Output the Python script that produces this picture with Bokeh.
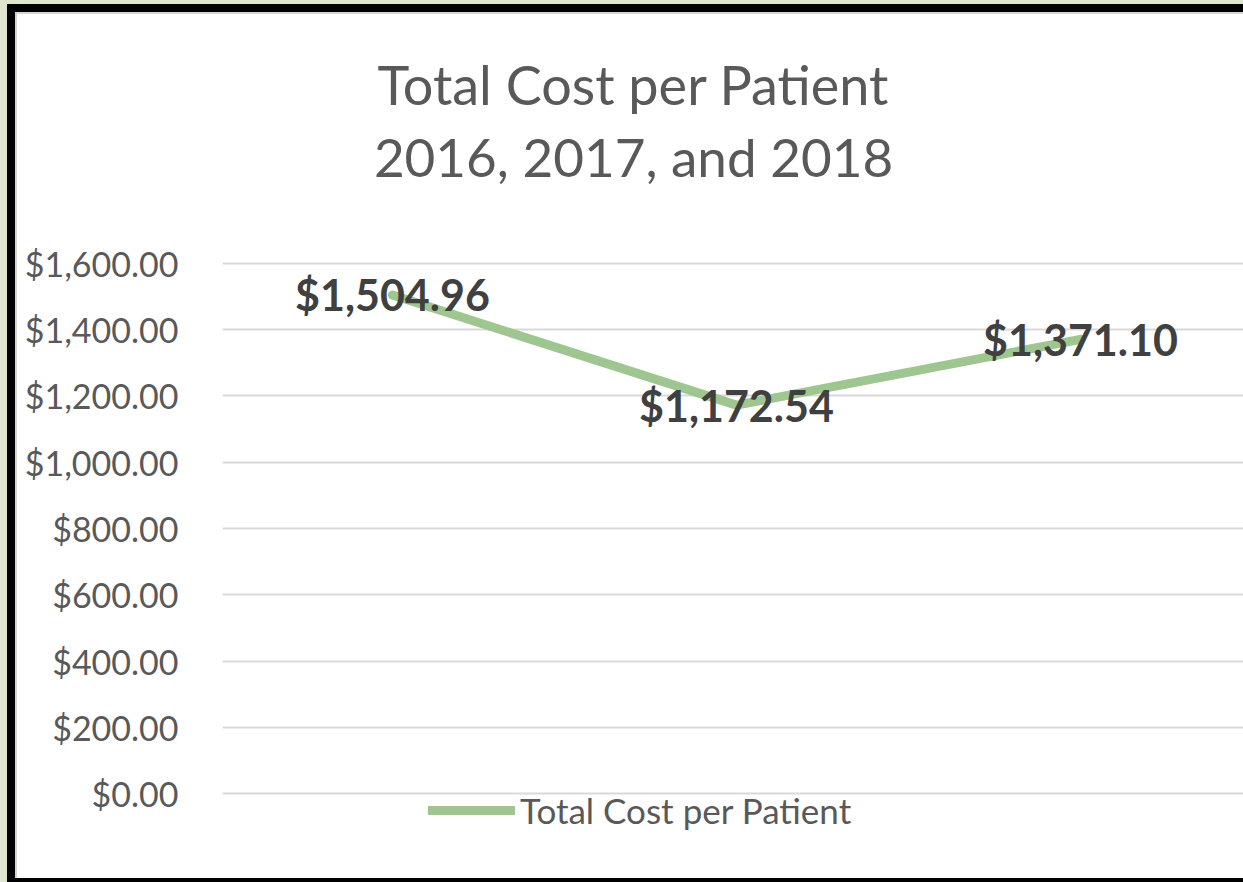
from bokeh.plotting import figure
from bokeh.models import (Range1d, FixedTicker, NumeralTickFormatter, Legend,
                          LegendItem, Label, ColumnDataSource)
from bokeh.core.properties import value
from bokeh.embed import file_html
from bokeh.resources import INLINE

# ---- data ----
years = ["2016", "2017", "2018"]
costs = [1504.96, 1172.54, 1371.10]
y_ticks = [0, 200, 400, 600, 800, 1000, 1200, 1400, 1600]
series_name = "Total Cost per Patient"
title_lines = ["Total Cost per Patient", "2016, 2017, and 2018"]

xs = list(range(len(years)))
labels = ["${:,.2f}".format(v) for v in costs]
src = ColumnDataSource(dict(x=xs, y=costs, label=labels, year=years))

FONT = "Lato"
GRAY = "#595959"

# plot frame spans the whole white chart area (right of the y-axis); the
# value axis occupies 0..1600, the space above/below holds title and legend
p = figure(width=1243, height=882, output_backend="svg", toolbar_location=None,
           tools="", x_range=Range1d(-0.494, 2.474),
           y_range=Range1d(-202.26, 2333.58), x_axis_location=None,
           min_border_left=222, min_border_right=0, min_border_top=20,
           min_border_bottom=22)
p.title.visible = False
p.border_fill_alpha = 0
p.background_fill_color = "white"
p.outline_line_color = None
p.styles = {
    "background-color": "white",
    "box-shadow": ("inset 7px 4px 0 0 #dfe6cf, inset 0 -4px 0 0 #000000, "
                   "inset 15px 12px 0 0 #000000, inset 17px 14px 0 0 #d4d4d4"),
}

# axes / grid
yax = p.yaxis[0]
yax.ticker = FixedTicker(ticks=y_ticks)
yax.formatter = NumeralTickFormatter(format="$0,0.00")
yax.axis_line_color = None
yax.major_tick_line_color = None
yax.minor_tick_line_color = None
yax.major_tick_out = 0
yax.major_label_standoff = 44
yax.major_label_text_font = FONT
yax.major_label_text_font_size = "34px"
yax.major_label_text_color = GRAY

p.xgrid.visible = False
p.ygrid.ticker = FixedTicker(ticks=y_ticks)
p.ygrid.grid_line_color = "#d9d9d9"
p.ygrid.grid_line_width = 2

# series
line_r = p.line("x", "y", source=src, line_color="#9fc690", line_width=9,
                line_cap="round", line_join="round")
p.text("x", "y", text="label", source=src, text_font=value(FONT),
       text_font_style="bold", text_font_size="43px", text_color="#404040",
       text_align="center", text_baseline="middle")

# legend (under the value axis)
legend = Legend(items=[LegendItem(label=series_name, renderers=[line_r])],
                location=(206, 29), orientation="horizontal",
                glyph_width=87, glyph_height=30, label_height=30,
                label_standoff=5, padding=0, spacing=0, margin=0,
                border_line_color=None, background_fill_alpha=0,
                label_text_font=FONT, label_text_font_size="35px",
                label_text_color=GRAY)
p.add_layout(legend)

# chart title, two centered lines
for text, y, size in zip(title_lines, [776, 704], ["54px", "53px"]):
    p.add_layout(Label(x=411, y=y, x_units="screen", y_units="screen",
                       text=text, text_align="center", text_baseline="middle",
                       text_font=FONT, text_font_size=size,
                       text_color=GRAY))

open("out.html", "w").write(file_html(p, INLINE))
